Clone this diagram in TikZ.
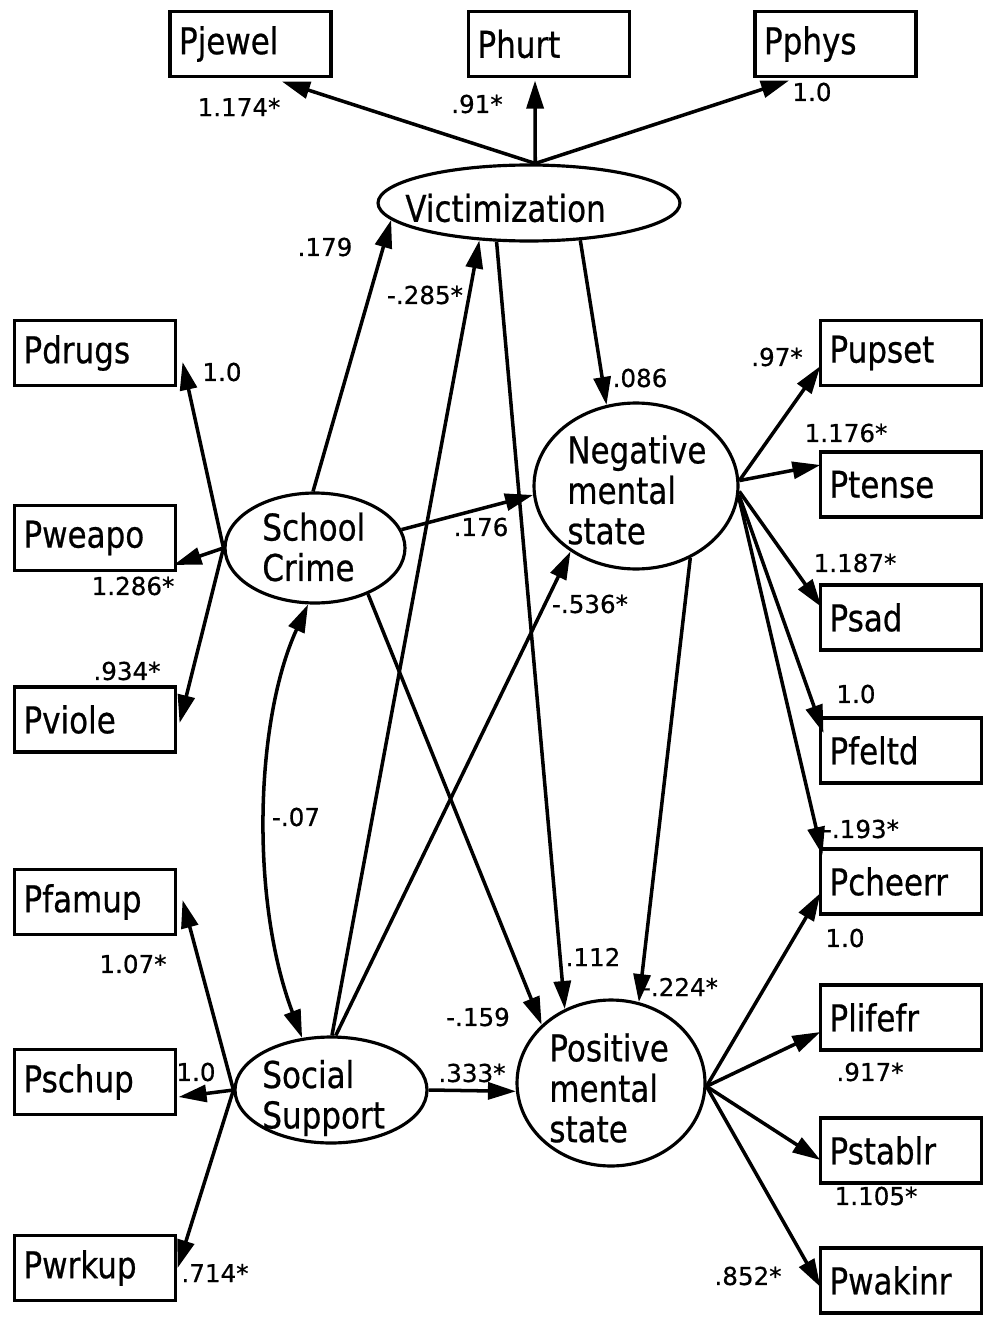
\documentclass[tikz,border=0pt]{standalone}
\usepackage{fontspec}
\setmainfont[FakeBold=0.6]{DejaVu Sans}
\newfontfamily\namefont[FakeStretch=0.84,FakeBold=0.6]{DejaVu Sans}
\usetikzlibrary{arrows.meta,shapes.geometric,calc}

\begin{document}
\begin{tikzpicture}[x=0.02cm,y=-0.02cm,
  namefnt/.style={font=\namefont\fontsize{21}{23}\selectfont},
  obsbox/.style={draw, line width=1.8pt, minimum height=1.3cm, text width=2.86cm,
    inner xsep=0.18cm, inner ysep=0pt, align=left, namefnt},
  latent/.style={draw, ellipse, line width=1.8pt, inner sep=0pt},
  lattext/.style={inner sep=0pt, align=left, anchor=west, namefnt},
  coef/.style={inner sep=0pt, font=\fontsize{14}{16}\selectfont},
  tip/.tip={Triangle[length=0.56cm,width=0.34cm]},
  effect/.style={line width=2pt, -tip},
  corr/.style={line width=2pt, tip-tip},
]
\useasboundingbox[fill=white] (0,0) rectangle (984,1321);

% observed indicators
\node[obsbox] (pjewel) at (250.5,44) {Pjewel};
\node[obsbox] (phurt)  at (549,44)   {Phurt};
\node[obsbox] (pphys)  at (835.5,44) {Pphys};

\node[obsbox] (pdrugs) at (95,353)    {Pdrugs};
\node[obsbox] (pweapo) at (95,538)    {Pweapo};
\node[obsbox] (pviole) at (95,719.5)  {Pviole};
\node[obsbox] (pfamup) at (95,902)    {Pfamup};
\node[obsbox] (pschup) at (95,1082)   {Pschup};
\node[obsbox] (pwrkup) at (95,1268)   {Pwrkup};

\node[obsbox] (pupset)  at (901,353)    {Pupset};
\node[obsbox] (ptense)  at (901,484.5)  {Ptense};
\node[obsbox] (psad)    at (901,617.5)  {Psad};
\node[obsbox] (pfeltd)  at (901,750.5)  {Pfeltd};
\node[obsbox] (pcheerr) at (901,881.5)  {Pcheerr};
\node[obsbox] (plifefr) at (901,1017.5) {Plifefr};
\node[obsbox] (pstablr) at (901,1150.5) {Pstablr};
\node[obsbox] (pwakinr) at (901,1280.5) {Pwakinr};

% latent variables
\node[latent, minimum width=6.04cm, minimum height=1.52cm] (vic) at (529,203) {};
\node[lattext] (vict) at (405,208) {Victimization};
\node[latent, minimum width=3.6cm, minimum height=2.2cm] (sc) at (315,548) {};
\node[lattext] (sct) at (262,547) {School\\Crime};
\node[latent, minimum width=3.84cm, minimum height=2.12cm] (ss) at (331,1090) {};
\node[lattext] (sst) at (262,1098) {Social\\Support};
\node[latent, minimum width=4.08cm, minimum height=3.32cm] (neg) at (636,486) {};
\node[lattext] (negt) at (567,490) {Negative\\mental\\state};
\node[latent, minimum width=3.76cm, minimum height=3.32cm] (pos) at (611,1083) {};
\node[lattext] (post) at (549,1088) {Positive\\mental\\state};

% measurement paths
\draw[effect] (vic.81) -- ([shift={(31.5,3.5)}]pjewel.south);
\draw[effect] (vic.81) -- ([shift={(-14,2.5)}]phurt.south);
\draw[effect] (vic.81) -- ([shift={(-46.5,2.5)}]pphys.south);

\draw[effect] (sc.180) -- ([shift={(5.5,9)}]pdrugs.east);
\draw[effect] (sc.180) -- ([shift={(-3.5,27)}]pweapo.east);
\draw[effect] (sc.180) -- ([shift={(2.5,3.5)}]pviole.east);

\draw[effect] (ss.180) -- ([shift={(5.5,-2)}]pfamup.east);
\draw[effect] (ss.180) -- ([shift={(1.5,15)}]pschup.east);
\draw[effect] (ss.180) -- ([shift={(0.5,0)}]pwrkup.east);

\draw[effect] (neg.3)  -- ([shift={(1.5,13)}]pupset.west);
\draw[effect] (neg.3)  -- ([shift={(1.5,-19.5)}]ptense.west);
\draw[effect] (neg.-3) -- ([shift={(2.5,-10.5)}]psad.west);
\draw[effect] (neg.-5) -- ([shift={(4.5,-17.5)}]pfeltd.west);
\draw[effect] (neg.-6) -- ([shift={(3.5,-26.5)}]pcheerr.west);

\draw[effect] (pos.-2) -- ([shift={(1.5,11.5)}]pcheerr.west);
\draw[effect] (pos.-2) -- ([shift={(1.5,14.5)}]plifefr.west);
\draw[effect] (pos.-2) -- ([shift={(1.5,9.5)}]pstablr.west);
\draw[effect] (pos.-2) -- ([shift={(1.5,6.5)}]pwakinr.west);

% structural paths
\draw[effect] (sc.92)  -- (vic.187);
\draw[effect] (ss.89)  -- (vic.217);
\draw[effect] (vic.230) -- (pos.122);
\draw[effect] (vic.324) -- (neg.110);
\draw[effect] (sc.12)  -- (neg.185);
\draw[effect] (ss.85)  -- (neg.225);
\draw[effect] (neg.307) -- (pos.71);
\draw[effect] (sc.319) -- (pos.140);
\draw[effect] (ss.0)   -- (pos.185);
\draw[corr] (sc.263) .. controls (255,720) and (250,900) .. (ss.119);

% coefficients
\node[coef] (c1)  at (239,107) {1.174*};
\node[coef] (c2)  at (477,104) {.91*};
\node[coef] (c3)  at (812,92)  {1.0};
\node[coef] (c4)  at (325,247) {.179};
\node[coef] (c5)  at (425,295) {-.285*};
\node[coef] (c6)  at (640,378) {.086};
\node[coef] (c7)  at (777,357) {.97*};
\node[coef] (c8)  at (222,372) {1.0};
\node[coef] (c9)  at (846,433) {1.176*};
\node[coef] (c10) at (481,527) {.176};
\node[coef] (c11) at (133,586) {1.286*};
\node[coef] (c12) at (855,563) {1.187*};
\node[coef] (c13) at (590,604) {-.536*};
\node[coef] (c14) at (127,671) {.934*};
\node[coef] (c15) at (856,694) {1.0};
\node[coef] (c16) at (296,817) {-.07};
\node[coef] (c17) at (861,829) {-.193*};
\node[coef] (c18) at (845,938) {1.0};
\node[coef] (c19) at (593,957) {.112};
\node[coef] (c20) at (133,964) {1.07*};
\node[coef] (c21) at (680,987) {-.224*};
\node[coef] (c22) at (478,1017) {-.159};
\node[coef] (c23) at (196,1072) {1.0};
\node[coef] (c24) at (472,1073) {.333*};
\node[coef] (c25) at (870,1072) {.917*};
\node[coef] (c26) at (876,1196) {1.105*};
\node[coef] (c27) at (215,1273) {.714*};
\node[coef] (c28) at (748,1276) {.852*};
\end{tikzpicture}
\end{document}
